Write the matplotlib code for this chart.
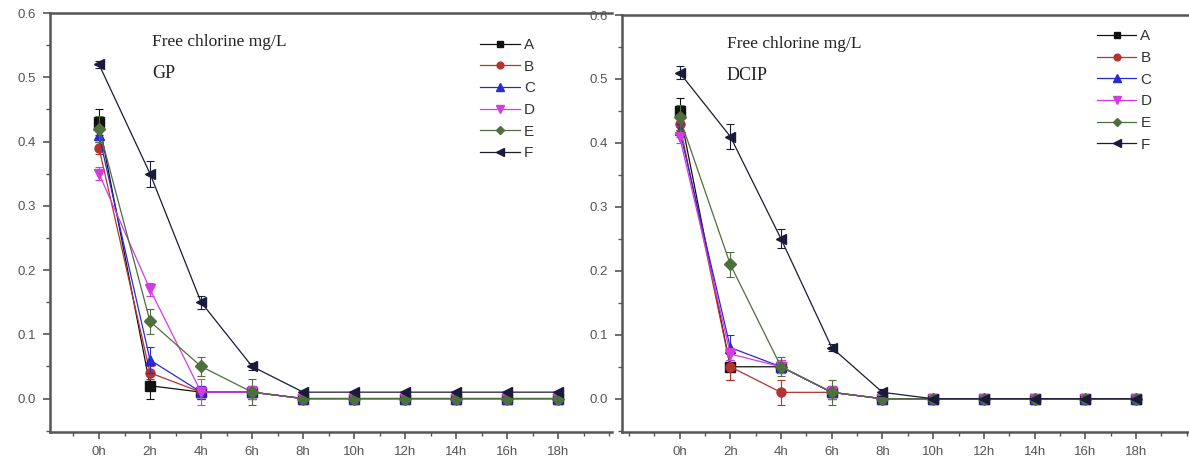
import numpy as np
import matplotlib
matplotlib.use('Agg')
import matplotlib.pyplot as plt
from matplotlib.ticker import MultipleLocator

plt.rcParams['font.family'] = ['Liberation Sans', 'DejaVu Sans']

# hours sampled
hours = [0, 2, 4, 6, 8, 10, 12, 14, 16, 18]
hour_labels = ['0h', '2h', '4h', '6h', '8h', '10h', '12h', '14h', '16h', '18h']
series_names = ['A', 'B', 'C', 'D', 'E', 'F']

# GP panel (free chlorine, mg/L)
gp_A = [0.43, 0.02, 0.01, 0.01, 0.00, 0.00, 0.00, 0.00, 0.00, 0.00]
gp_B = [0.39, 0.04, 0.01, 0.01, 0.00, 0.00, 0.00, 0.00, 0.00, 0.00]
gp_C = [0.41, 0.06, 0.01, 0.01, 0.00, 0.00, 0.00, 0.00, 0.00, 0.00]
gp_D = [0.35, 0.17, 0.01, 0.01, 0.00, 0.00, 0.00, 0.00, 0.00, 0.00]
gp_E = [0.42, 0.12, 0.05, 0.01, 0.00, 0.00, 0.00, 0.00, 0.00, 0.00]
gp_F = [0.52, 0.35, 0.15, 0.05, 0.01, 0.01, 0.01, 0.01, 0.01, 0.01]
gp_err_A = [0.02, 0.02, 0.01, 0.01, 0.0, 0.0, 0.0, 0.0, 0.0, 0.0]
gp_err_B = [0.01, 0.01, 0.01, 0.01, 0.0, 0.0, 0.0, 0.0, 0.0, 0.0]
gp_err_C = [0.01, 0.02, 0.01, 0.01, 0.0, 0.0, 0.0, 0.0, 0.0, 0.0]
gp_err_D = [0.01, 0.01, 0.02, 0.01, 0.0, 0.0, 0.0, 0.0, 0.0, 0.0]
gp_err_E = [0.02, 0.02, 0.015, 0.02, 0.0, 0.0, 0.0, 0.0, 0.0, 0.0]
gp_err_F = [0.005, 0.02, 0.01, 0.005, 0.0, 0.0, 0.0, 0.0, 0.0, 0.0]

# DCIP panel (free chlorine, mg/L)
dcip_A = [0.45, 0.05, 0.05, 0.01, 0.00, 0.00, 0.00, 0.00, 0.00, 0.00]
dcip_B = [0.43, 0.05, 0.01, 0.01, 0.00, 0.00, 0.00, 0.00, 0.00, 0.00]
dcip_C = [0.42, 0.08, 0.05, 0.01, 0.00, 0.00, 0.00, 0.00, 0.00, 0.00]
dcip_D = [0.41, 0.07, 0.05, 0.01, 0.00, 0.00, 0.00, 0.00, 0.00, 0.00]
dcip_E = [0.44, 0.21, 0.05, 0.01, 0.00, 0.00, 0.00, 0.00, 0.00, 0.00]
dcip_F = [0.51, 0.41, 0.25, 0.08, 0.01, 0.00, 0.00, 0.00, 0.00, 0.00]
dcip_err_A = [0.02, 0.02, 0.01, 0.01, 0.0, 0.0, 0.0, 0.0, 0.0, 0.0]
dcip_err_B = [0.01, 0.02, 0.02, 0.01, 0.0, 0.0, 0.0, 0.0, 0.0, 0.0]
dcip_err_C = [0.01, 0.02, 0.01, 0.01, 0.0, 0.0, 0.0, 0.0, 0.0, 0.0]
dcip_err_D = [0.01, 0.01, 0.01, 0.01, 0.0, 0.0, 0.0, 0.0, 0.0, 0.0]
dcip_err_E = [0.02, 0.02, 0.015, 0.02, 0.0, 0.0, 0.0, 0.0, 0.0, 0.0]
dcip_err_F = [0.01, 0.02, 0.015, 0.005, 0.005, 0.0, 0.0, 0.0, 0.0, 0.0]

colors = ['#111111', '#b5332f', '#2a2ad0', '#d43ce2', '#4f6f3c', '#1a1a3a']
markers = ['s', 'o', '^', 'v', 'D', '<']
msizes = [6.5, 6.5, 7.5, 7.5, 6, 7.5]
grey = '#555555'


def draw_panel(ax, values, errors, name, xlim, leg_anchor):
    for i in range(6):
        ax.errorbar(hours, values[i], yerr=errors[i], color=colors[i], ecolor=colors[i],
                    marker=markers[i], markersize=msizes[i], linewidth=0.9,
                    elinewidth=0.8, capsize=3, capthick=0.8, label=series_names[i],
                    zorder=3 + i)
    ax.set_xlim(*xlim)
    ax.set_ylim(-0.052, 0.6)
    ax.set_xticks(hours)
    ax.set_xticklabels(hour_labels)
    ax.xaxis.set_minor_locator(MultipleLocator(1))
    ax.set_yticks([0.0, 0.1, 0.2, 0.3, 0.4, 0.5, 0.6])
    ax.set_yticklabels(['0.0', '0.1', '0.2', '0.3', '0.4', '0.5', '0.6'])
    ax.yaxis.set_minor_locator(MultipleLocator(0.05))
    ax.tick_params(which='major', direction='out', length=5, width=1.2,
                   color=grey, labelcolor=grey, labelsize=9.5, pad=5)
    ax.tick_params(which='minor', direction='out', length=3, width=1.0, color=grey)
    for side in ['left', 'bottom', 'top']:
        ax.spines[side].set_color(grey)
        ax.spines[side].set_linewidth(1.8)
    ax.spines['right'].set_visible(False)
    ax.text(0.182, 0.93, 'Free chlorine mg/L', transform=ax.transAxes,
            family='Liberation Serif', fontsize=12.5, color='#222222', va='center')
    ax.text(0.182, 0.855, name, transform=ax.transAxes,
            family='Liberation Serif', fontsize=13, color='#222222', va='center')
    handles, labels = ax.get_legend_handles_labels()
    handles = [h[0] for h in handles]
    leg = ax.legend(handles, labels, loc='upper left', bbox_to_anchor=leg_anchor,
                    frameon=False, fontsize=11, handlelength=2.6, handletextpad=0.25,
                    labelspacing=0.5, borderaxespad=0, markerscale=0.75)
    for t in leg.get_texts():
        t.set_color('#333333')


fig = plt.figure(figsize=(11.89, 4.63), dpi=100)
fig.patch.set_facecolor('white')

ax1 = fig.add_axes([50 / 1189, 1 - 432 / 463, 562 / 1189, 419 / 463])
ax2 = fig.add_axes([622 / 1189, 1 - 432 / 463, 575 / 1189, 417 / 463])

draw_panel(ax1, [gp_A, gp_B, gp_C, gp_D, gp_E, gp_F],
           [gp_err_A, gp_err_B, gp_err_C, gp_err_D, gp_err_E, gp_err_F],
           'GP', (-1.92, 20.1), (0.755, 0.955))
draw_panel(ax2, [dcip_A, dcip_B, dcip_C, dcip_D, dcip_E, dcip_F],
           [dcip_err_A, dcip_err_B, dcip_err_C, dcip_err_D, dcip_err_E, dcip_err_F],
           'DCIP', (-2.27, 20.4), (0.815, 0.98))

fig.savefig('out.png', dpi=100)
